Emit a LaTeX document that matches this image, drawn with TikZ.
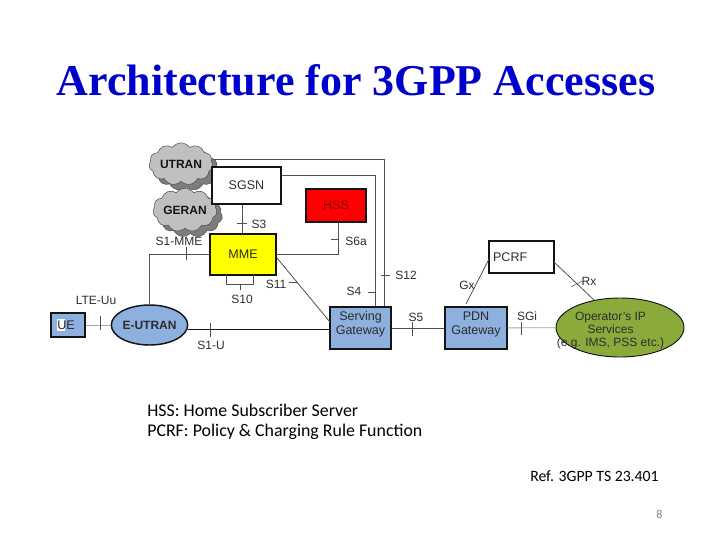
\documentclass[tikz,border=0pt]{standalone}
\usepackage{fontspec}
\setmainfont{Liberation Sans}
\newfontfamily\titlefont{Liberation Serif}
\newfontfamily\notefont{Carlito}
\usetikzlibrary{positioning,shapes.geometric,shapes.symbols,shadows}
\definecolor{cTitle}{RGB}{0,0,204}
\definecolor{cBlue}{RGB}{141,176,222}
\definecolor{cYellow}{RGB}{255,255,0}
\definecolor{cRed}{RGB}{255,0,0}
\definecolor{cGreen}{RGB}{139,170,60}
\definecolor{cCloud}{RGB}{192,192,192}
\definecolor{cCloudBack}{RGB}{125,125,125}
\definecolor{cEdge}{RGB}{20,20,20}
\definecolor{cLine}{RGB}{80,80,80}
\definecolor{cPale}{RGB}{165,165,165}
\definecolor{cText}{RGB}{45,45,45}
\tikzset{
  unit/.style={
    rectangle, draw=cEdge, line width=1.1pt, align=center, text=cText,
    font=\fontsize{9.4}{10.5}\selectfont, inner sep=0pt,
  },
  oval/.style={unit, ellipse},
  radio/.style={
    cloud, cloud puffs=11, cloud puff arc=110, aspect=1.7, draw=cLine, line width=0.4pt,
    fill=cCloud, inner sep=0pt, font=\fontsize{9}{10}\selectfont\bfseries, text=cEdge,
    copy shadow={shadow xshift=4pt, shadow yshift=-4pt, fill=cCloudBack, draw=cLine},
  },
  lab/.style={font=\fontsize{9}{10}\selectfont, text=cText, inner sep=0pt},
  link/.style={draw=cLine, line width=0.6pt},
  pale/.style={draw=cPale, line width=0.6pt},
  tick/.style={draw=cLine, line width=0.4pt},
  note/.style={font=\notefont\fontsize{13.4}{15}\selectfont, text=black, anchor=west, inner sep=0pt},
}
\begin{document}
\begin{tikzpicture}[x=0.75pt,y=-0.75pt]
\useasboundingbox (0,0) rectangle (720,540);

% ===== title =====
\node[font=\titlefont\fontsize{33}{36}\selectfont\bfseries, text=cTitle, inner sep=0pt] (title) at (356,80)
  {Architecture for 3GPP Accesses};

% ===== clouds =====
\node[radio, minimum width=48pt, minimum height=27pt] (utran) at (181,164) {UTRAN};
\node[radio, minimum width=48pt, minimum height=27pt] (geran) at (185,210) {GERAN};

% ===== boxes =====
\node[unit, fill=white, minimum width=51.75pt, minimum height=27.75pt] (sgsn) at (246.5,185.5) {SGSN};
\node[unit, fill=cRed, minimum width=45pt, minimum height=24.75pt, text=cRed!50!black] (hss) at (336,205.5) {HSS};
\node[unit, fill=cYellow, minimum width=49.5pt, minimum height=30.75pt] (mme) at (243,254.5) {MME};
\node[unit, fill=cBlue, minimum width=25.5pt, minimum height=18pt] (ue) at (68,325)
  {\makebox[0pt][l]{\textcolor{white}{\rule[-1pt]{6pt}{8.5pt}}}UE\hspace*{3pt}};
\node[oval, fill=cBlue, minimum width=54.75pt, minimum height=30pt, font=\fontsize{9}{10}\selectfont\bfseries] (eutran) at (149.5,325) {E-UTRAN};
\node[unit, fill=cBlue, minimum width=45.75pt, minimum height=31.5pt] (sgw) at (360.5,328) {Serving\\Gateway\\[-3pt]\mbox{}};
\node[unit, fill=cBlue, minimum width=46.5pt, minimum height=31.5pt] (pgw) at (476,328) {PDN\\Gateway\\[-3pt]\mbox{}};
\node[unit, fill=white, minimum width=48.75pt, minimum height=24pt] (pcrf) at (521.5,257) {PCRF\hspace*{17pt}};
\node[oval, fill=cGreen, line width=0.7pt, minimum width=96pt, minimum height=44.25pt] (ops) at (620,327.5) {};
\node[lab, align=center] (opstext) at (610.5,330.5) {Operator's IP\\Services\\(e.g. IMS, PSS etc.)};

% ===== anchor points of the long lines =====
\coordinate (utranR) at (utran.east |- 0,159);
\coordinate (sgwA) at (375,0);
\coordinate (sgwB) at (384,0);
\coordinate (mmeR) at (276,254);
\coordinate (mmeS) at (277,258);
\coordinate (sgwS) at (330,322);
\coordinate (loopL) at (226,275);
\coordinate (loopR) at (253,275);
\coordinate (gxA) at (466,304);
\coordinate (gxB) at (489,259);
\coordinate (rxA) at (554,262);
\coordinate (rxB) at (594,300);

% ===== connectors =====
\draw[link] (utranR) -- (sgwB |- utranR) -- (sgwB |- sgw.north);
\draw[link] (sgsn.east |- 0,175) -- (sgwA |- 0,175) -- (sgwA |- sgw.north);
\draw[link] (sgsn.south -| 242,0) -- (mme.north -| 242,0);
\draw[link] (hss.south -| 338,0) -- (338,254) -- (mmeR);
\draw[link] (eutran.north) -- (eutran.north |- mmeR) -- (mme.west |- mmeR);
\draw[link] (loopL) -- ++(0,9) -| (loopR);
\draw[link] (mmeS) -- (sgwS);
\draw[pale] (ue) -- (eutran);
\draw[link, cEdge] (eutran.east |- 0,329) -- (sgw.west |- 0,329);
\draw[link] (sgw) -- (pgw);
\draw[pale] (pgw) -- (ops);
\draw[link] (gxA) -- (gxB);
\draw[link] (rxA) -- (rxB);

% ===== ticks on the interfaces =====
\draw[tick] (237,223) -- (247,223);
\draw[tick] (331,239) -- (338,239);
\draw[tick] (186,247) -- (186,260);
\draw[tick] (240,284) -- (240,290);
\draw[tick] (289,282) -- (298,282);
\draw[tick] (368,292) -- (375,292);
\draw[tick] (381,275) -- (390,275);
\draw[tick] (100,316) -- (100,330);
\draw[tick] (210,323) -- (210,337);
\draw[tick] (412,322) -- (412,336);
\draw[tick] (521,322) -- (521,335);
\draw[tick] (571,287) -- (582,281);

% ===== interface labels =====
\node[lab] (ls3) at (259,224) {S3};
\node[lab] (ls6a) at (356,241) {S6a};
\node[lab] (ls1m) at (179,241) {S1-MME};
\node[lab] (ls10) at (242,299) {S10};
\node[lab] (ls11) at (276,284) {S11};
\node[lab] (ls4) at (354,291) {S4};
\node[lab] (ls12) at (406,275) {S12};
\node[lab] (lUu) at (96,300) {LTE-Uu};
\node[lab] (ls1u) at (211,345) {S1-U};
\node[lab] (ls5) at (416,317) {S5};
\node[lab] (lsgi) at (527,316) {SGi};
\node[lab] (lgx) at (467,285) {Gx};
\node[lab] (lrx) at (589,281) {Rx};

% ===== notes =====
\node[note] (n1) at (147,410) {HSS: Home Subscriber Server};
\node[note] (n2) at (147,432) {PCRF: Policy \& Charging Rule Function};
\node[note, font=\notefont\fontsize{11.8}{13}\selectfont] (n3) at (530,476) {Ref. 3GPP TS 23.401};
\node[note, font=\notefont\fontsize{9}{11}\selectfont, text=black!50] (n4) at (656,514) {8};

\end{tikzpicture}
\end{document}
